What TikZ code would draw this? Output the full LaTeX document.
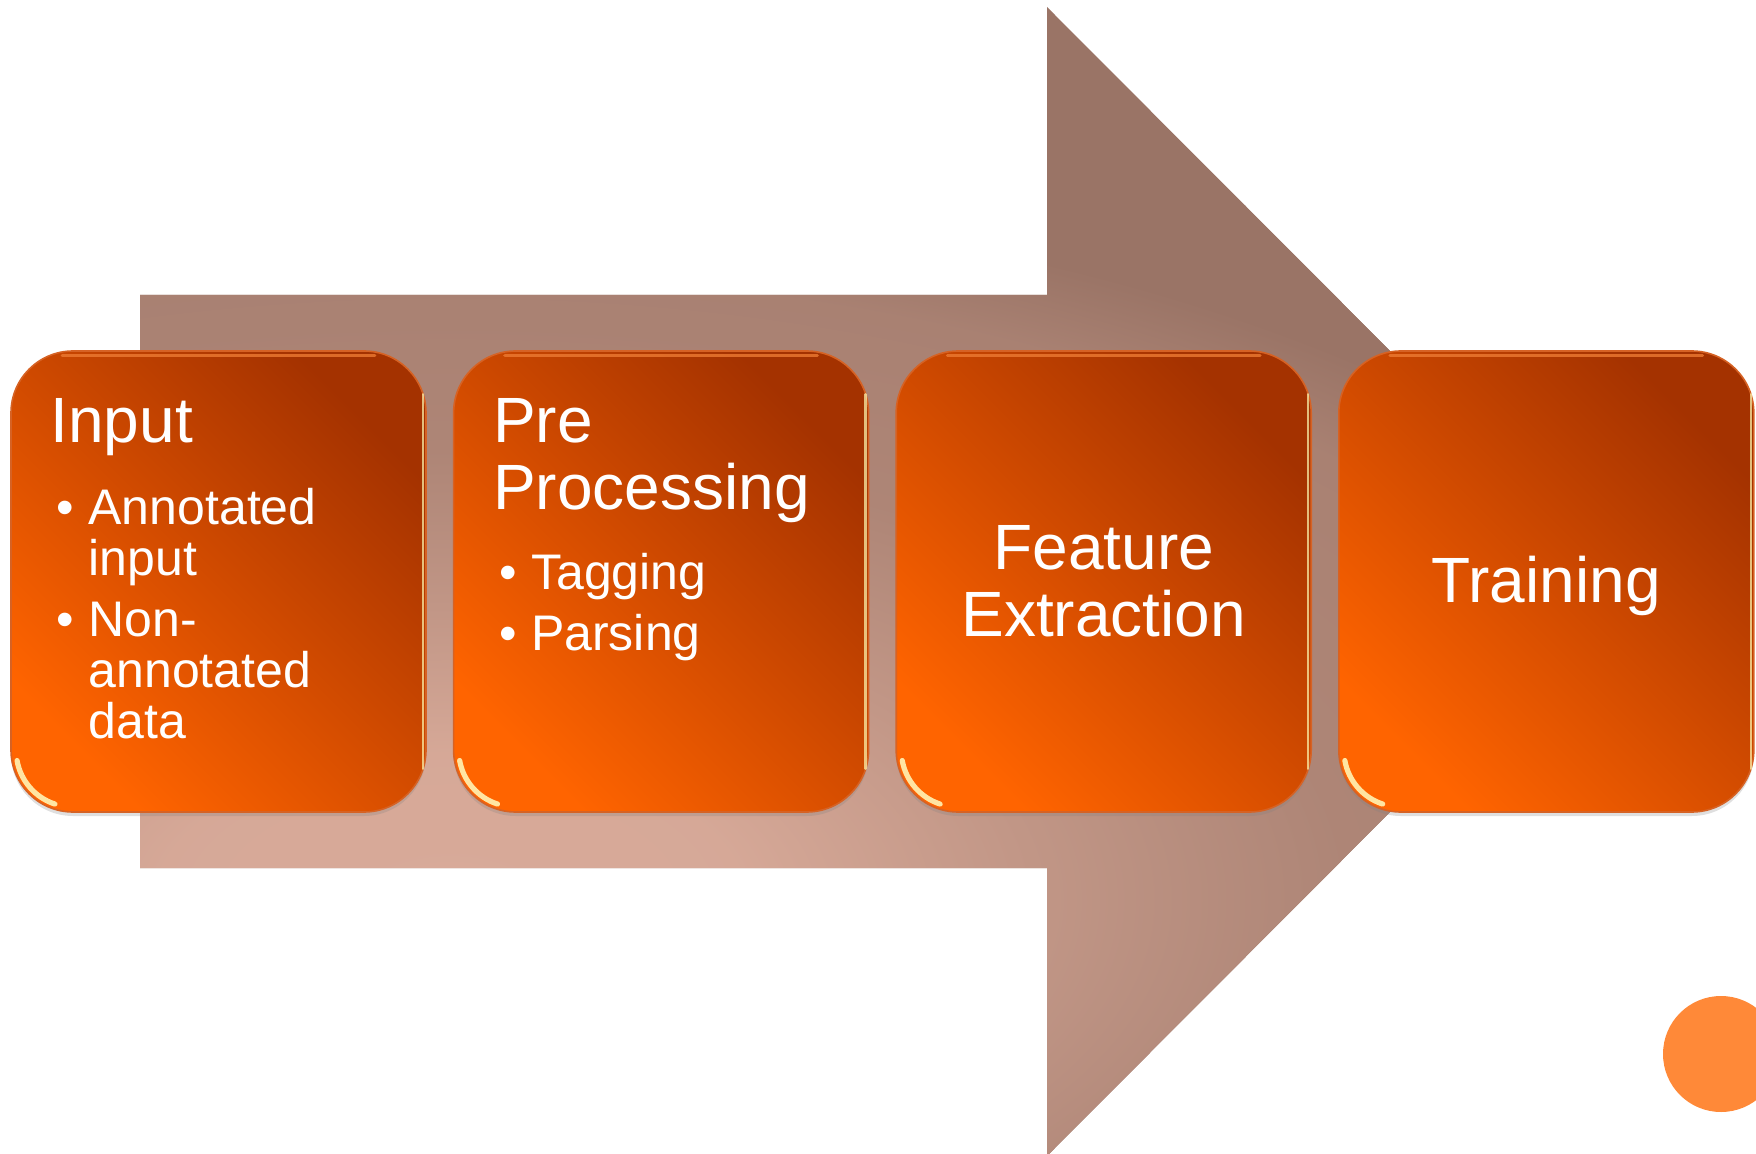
\documentclass[tikz,border=0pt]{standalone}
\usepackage{fontspec}
\setmainfont{Liberation Sans}
\usetikzlibrary{positioning,shadows}

\definecolor{boxdark}{RGB}{164,50,0}
\definecolor{boxlight}{RGB}{255,100,0}
\definecolor{boxedge}{RGB}{214,98,36}
\definecolor{boxrim}{RGB}{236,122,50}
\definecolor{arrdark}{RGB}{154,116,102}
\definecolor{arrlight}{RGB}{216,170,153}
\definecolor{dotorange}{RGB}{255,137,56}

% light patch low on the arrow shaft
\pgfdeclareradialshading{arrowglow}{\pgfpoint{0bp}{0bp}}{color(0bp)=(arrlight);
  color(4.5bp)=(arrdark!3!arrlight); color(9bp)=(arrdark!36!arrlight);
  color(12.2bp)=(arrdark!57!arrlight); color(14bp)=(arrdark!68!arrlight);
  color(19.5bp)=(arrdark!76!arrlight); color(22bp)=(arrdark); color(50bp)=(arrdark)}

\newcommand{\itm}[1]{\makebox[16pt][l]{\textbullet}#1}
\newcommand{\cont}[1]{\hspace*{16pt}#1}
\newcommand{\arrowpath}{(140,295) -- (1047,295) -- (1047,7) -- (1620,581.5) -- (1047,1156) -- (1047,868) -- (140,868) -- cycle}

\begin{document}
\begin{tikzpicture}[x=0.5pt, y=-0.5pt, node distance=13pt,
    every node/.style={inner sep=0pt, text=white},
    stage/.style={rounded corners=31pt, minimum width=207.5pt, minimum height=230.5pt,
        top color=boxdark, bottom color=boxlight, shading angle=-45,
        draw=boxedge, line width=0.8pt,
        drop shadow={opacity=0.25, shadow xshift=0pt, shadow yshift=-2pt}},
    gleam/.style={line width=2.6pt, line cap=round, yellow!25!white, opacity=0.85},
    sidelight/.style={line width=1.1pt, line cap=round, yellow!30!white, opacity=0.7},
    rim/.style={line width=1.6pt, line cap=round, boxrim, opacity=0.8},
    head/.style={font=\fontsize{32}{33.5}\selectfont, align=left},
    items/.style={font=\fontsize{25}{25.5}\selectfont, align=left}
    ]
\useasboundingbox (0,0) rectangle (1756,1154);
\clip (0,0) rectangle (1756,1154);
% big arrow behind the stages
\fill[arrdark] \arrowpath;
\begin{scope}
  \clip \arrowpath;
  \shade[shading=arrowglow] (450,900) ellipse [x radius=800pt, y radius=400pt];
\end{scope}
% stages
\node[stage] (input) at (218.5,581.5) {};
\node[stage, right=of input] (prep) {};
\node[stage, right=of prep] (feat) {};
\node[stage, right=of feat] (train) {};
\foreach \b in {input,prep,feat,train}{
  \draw[gleam] ([shift={(31pt,31pt)}]\b.south west) ++(190:28pt) arc[start angle=190, end angle=252, radius=28pt];
  \draw[rim] ([shift={(26pt,-2.5pt)}]\b.north west) -- ([shift={(-26pt,-2.5pt)}]\b.north east);
  \draw[sidelight] ([shift={(-2pt,-22pt)}]\b.north east) -- ([shift={(-2pt,22pt)}]\b.south east);
}
% texts
\node[head, anchor=north west] (inputhead) at ([xshift=20pt, yshift=-24pt]input.north west) {Input};
\node[items, anchor=north west] (inputlist) at ([xshift=23pt, yshift=-69pt]input.north west)
  {\itm{Annotated}\\\cont{input}\\[5pt]\itm{Non-}\\\cont{annotated}\\\cont{data}};
\node[head, anchor=north west] (prephead) at ([xshift=20pt, yshift=-24pt]prep.north west) {Pre\\Processing};
\node[items, anchor=north west] (preplist) at ([xshift=23pt, yshift=-101.5pt]prep.north west)
  {\itm{Tagging}\\[5pt]\itm{Parsing}};
\node[head, align=center] (feathead) at (feat) {Feature\\Extraction};
\node[head, yshift=-2pt] (trainhead) at (train) {Training};
% corner dot
\node[circle, fill=dotorange, minimum size=58pt] (dot) at (1721,1054) {};
\end{tikzpicture}
\end{document}
